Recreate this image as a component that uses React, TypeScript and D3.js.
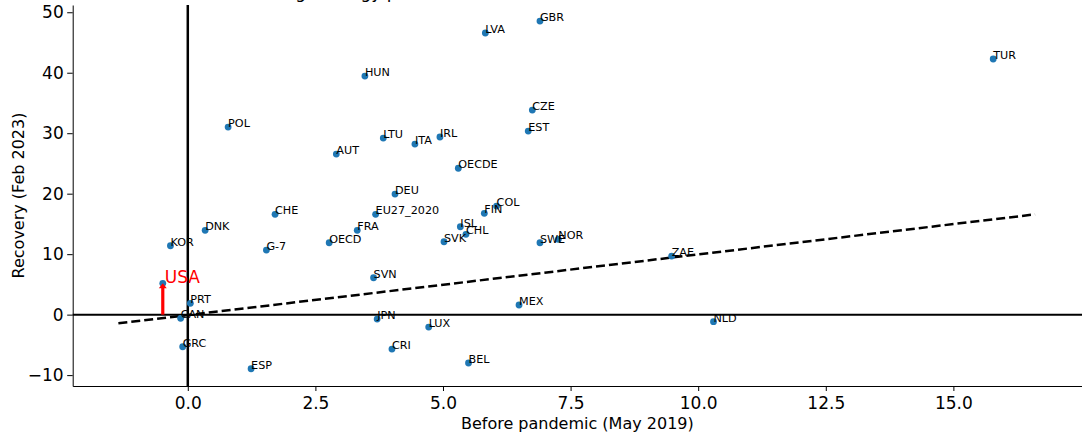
import React, { useEffect, useRef } from 'react';
import * as d3 from 'd3';

// Countries and values
const countries = [
  'GBR', 'LVA', 'TUR', 'HUN', 'CZE', 'POL', 'EST', 'LTU', 'IRL', 'ITA',
  'AUT', 'OECDE', 'DEU', 'COL', 'FIN', 'EU27_2020', 'CHE', 'ISL', 'FRA', 'DNK',
  'CHL', 'NOR', 'SWE', 'SVK', 'OECD', 'KOR', 'G-7', 'ZAE', 'SVN', 'USA',
  'PRT', 'MEX', 'CAN', 'JPN', 'NLD', 'LUX', 'GRC', 'CRI', 'BEL', 'ESP',
];
const beforePandemic = [
  6.9, 5.83, 15.78, 3.47, 6.75, 0.79, 6.67, 3.83, 4.94, 4.45,
  2.91, 5.3, 4.06, 6.05, 5.81, 3.68, 1.71, 5.34, 3.32, 0.34,
  5.45, 7.26, 6.9, 5.02, 2.77, -0.34, 1.54, 9.48, 3.64, -0.49,
  0.05, 6.49, -0.14, 3.71, 10.3, 4.72, -0.1, 4.0, 5.5, 1.24,
];
const recovery = [
  48.55, 46.57, 42.27, 39.45, 33.83, 31.02, 30.36, 29.2, 29.37, 28.21,
  26.55, 24.21, 19.94, 17.95, 16.75, 16.58, 16.58, 14.53, 13.94, 13.94,
  13.28, 12.45, 11.89, 12.05, 11.89, 11.39, 10.68, 9.69, 6.1, 5.18,
  1.87, 1.59, -0.61, -0.73, -1.17, -2.05, -5.31, -5.69, -8.0, -8.95,
];

// dashed fit line end points
const trendX = [-1.36, 16.6];
const trendY = [-1.44, 16.58];

// highlighted country and the base of its arrow
const highlight = 'USA';
const arrowBase = 0;

const xTicks = [0, 2.5, 5, 7.5, 10, 12.5, 15];
const yTicks = [-10, 0, 10, 20, 30, 40, 50];

const App = () => {
  const svgRef = useRef<SVGSVGElement>(null);

  useEffect(() => {
    const width = 1082;
    const height = 433;
    const margin = { top: 5, right: 0, bottom: 47, left: 72.7 };
    const font = 'DejaVu Sans, sans-serif';

    d3.select(svgRef.current).selectAll('*').remove();

    const svg = d3
      .select(svgRef.current)
      .attr('width', width)
      .attr('height', height);

    // Scales
    const x = d3
      .scaleLinear()
      .domain([-2.255, 17.52])
      .range([margin.left, width - margin.right]);

    const y = d3
      .scaleLinear()
      .domain([-11.8, 51.2])
      .range([height - margin.bottom, margin.top]);

    const data = countries.map((c, i) => ({
      name: c,
      x: beforePandemic[i],
      y: recovery[i],
    }));

    // Title (cut off above the picture)
    const title = svg
      .append('g')
      .attr('font-family', font)
      .attr('font-size', 17)
      .attr('fill', '#000');
    title
      .append('text')
      .attr('x', 273)
      .attr('y', -2)
      .attr('text-anchor', 'end')
      .text('Industrial slowdown ');
    title
      .append('text')
      .attr('x', 273)
      .attr('y', -2)
      .text('(high energy price shock)');

    // Zero lines
    svg
      .append('line')
      .attr('x1', x(0))
      .attr('x2', x(0))
      .attr('y1', margin.top)
      .attr('y2', height - margin.bottom)
      .attr('stroke', '#000')
      .attr('stroke-width', 2.5);

    svg
      .append('line')
      .attr('x1', margin.left)
      .attr('x2', width - margin.right)
      .attr('y1', y(0))
      .attr('y2', y(0))
      .attr('stroke', '#000')
      .attr('stroke-width', 2);

    // Trend line
    svg
      .append('line')
      .attr('x1', x(trendX[0]))
      .attr('y1', y(trendY[0]))
      .attr('x2', x(trendX[1]))
      .attr('y2', y(trendY[1]))
      .attr('stroke', '#000')
      .attr('stroke-width', 2.5)
      .attr('stroke-dasharray', '9,4');

    // Points
    svg
      .selectAll('.dot')
      .data(data)
      .enter()
      .append('circle')
      .attr('class', 'dot')
      .attr('cx', (d) => x(d.x))
      .attr('cy', (d) => y(d.y))
      .attr('r', 3.4)
      .attr('fill', '#1f77b4');

    // Labels
    svg
      .selectAll('.label')
      .data(data.filter((d) => d.name !== highlight))
      .enter()
      .append('text')
      .attr('class', 'label')
      .attr('x', (d) => x(d.x))
      .attr('y', (d) => y(d.y))
      .attr('font-family', font)
      .attr('font-size', 11.2)
      .attr('fill', '#000')
      .text((d) => d.name);

    // Highlighted country: red arrow and label
    const usa = data.find((d) => d.name === highlight)!;
    const ax = x(usa.x);
    const top = y(usa.y);
    svg
      .append('line')
      .attr('x1', ax)
      .attr('x2', ax)
      .attr('y1', y(arrowBase))
      .attr('y2', top + 4)
      .attr('stroke', 'red')
      .attr('stroke-width', 3.2);
    svg
      .append('path')
      .attr('d', `M${ax - 4},${top + 5} L${ax},${top} L${ax + 4},${top + 5} Z`)
      .attr('fill', 'red');
    svg
      .append('text')
      .attr('x', x(usa.x) + 2)
      .attr('y', y(usa.y))
      .attr('font-family', font)
      .attr('font-size', 17)
      .attr('fill', 'red')
      .text(highlight);

    // X Axis
    const xAxis = svg
      .append('g')
      .attr('transform', `translate(0,${height - margin.bottom})`)
      .call(
        d3
          .axisBottom(x)
          .tickValues(xTicks)
          .tickFormat(d3.format('.1f'))
          .tickSize(5)
          .tickSizeOuter(0)
          .tickPadding(5.5)
      );
    xAxis.selectAll('text').attr('font-size', 17).attr('font-family', font).attr('fill', '#000');
    xAxis.selectAll('line, path').attr('stroke', '#000').attr('stroke-width', 1);

    // Y Axis
    const yAxis = svg
      .append('g')
      .attr('transform', `translate(${margin.left},0)`)
      .call(
        d3
          .axisLeft(y)
          .tickValues(yTicks)
          .tickFormat((d) => String(d).replace('-', '\u2212'))
          .tickSize(5.5)
          .tickSizeOuter(0)
          .tickPadding(3.5)
      );
    yAxis.selectAll('text').attr('font-size', 17).attr('font-family', font).attr('fill', '#000');
    yAxis.selectAll('line, path').attr('stroke', '#000').attr('stroke-width', 1);

    // Axis labels
    svg
      .append('text')
      .attr('x', (margin.left + width - margin.right) / 2)
      .attr('y', 429)
      .attr('text-anchor', 'middle')
      .attr('font-family', font)
      .attr('font-size', 16)
      .attr('fill', '#000')
      .text('Before pandemic (May 2019)');

    svg
      .append('text')
      .attr('transform', `translate(23.5,${(margin.top + height - margin.bottom) / 2}) rotate(-90)`)
      .attr('text-anchor', 'middle')
      .attr('font-family', font)
      .attr('font-size', 16)
      .attr('fill', '#000')
      .text('Recovery (Feb 2023)');
  }, []);

  return (
    <div style={{ position: 'absolute', left: 0, top: 0 }}>
      <svg ref={svgRef} style={{ display: 'block', background: '#fff' }}></svg>
    </div>
  );
};

export default App;
